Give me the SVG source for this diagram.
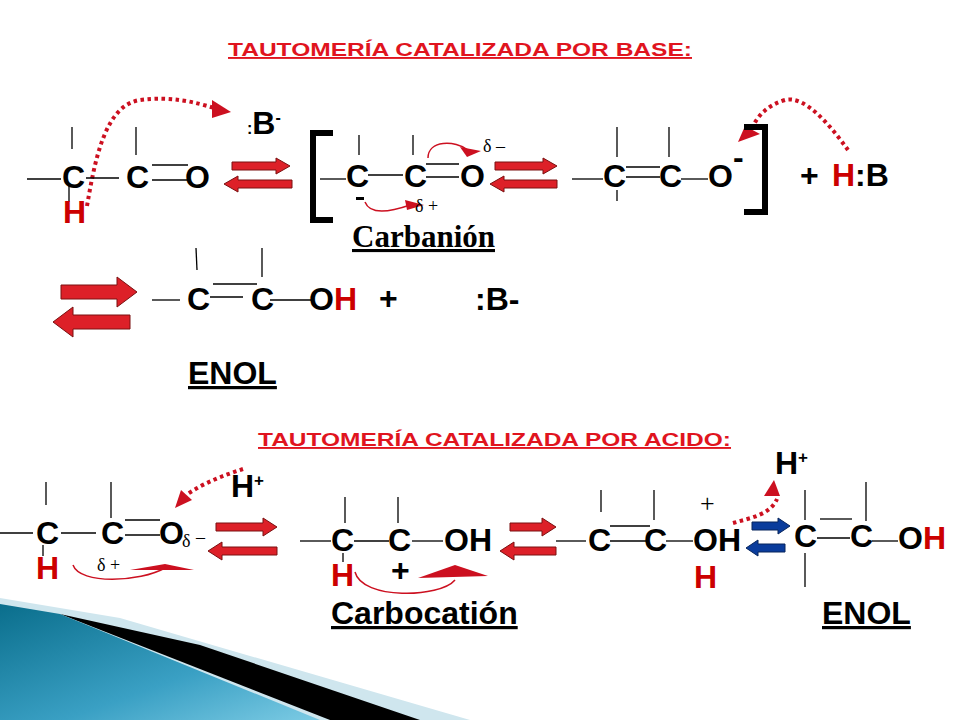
<svg xmlns="http://www.w3.org/2000/svg" width="960" height="720" viewBox="0 0 960 720">
<defs>
<style>
.t{font-family:"Liberation Sans",Arial,sans-serif;font-weight:bold;font-size:19px;fill:#e0141e;text-decoration:underline}
.a{font-family:"Liberation Sans",Arial,sans-serif;font-weight:bold;font-size:32px;fill:#000}
.a.r,.r{fill:#cc0000}
.s{font-family:"Liberation Serif","Times New Roman",serif;font-size:18px;fill:#000}
.ln{stroke:#000;stroke-width:1.3;fill:none}
.fa{fill:#dd2028;stroke:#7a1010;stroke-width:1}
.ba{fill:#0a3c9c;stroke:#06245c;stroke-width:1}
.dot{fill:none;stroke:#cc1020;stroke-width:4;stroke-dasharray:3.5 3.5}
.cur{fill:none;stroke:#cc1020;stroke-width:1.5}
.hd{fill:#cc1020}
</style>
<linearGradient id="g" x1="0" y1="0" x2="1" y2="1">
<stop offset="0" stop-color="#0a6e8c"/><stop offset="0.6" stop-color="#3aa0c4"/><stop offset="1" stop-color="#7ccbe4"/>
</linearGradient>
</defs>
<g id="decor">
<polygon points="0,598 120,618 470,720 0,720" fill="#cfe6ee"/>
<polygon points="60,614 200,645 420,720 330,720" fill="#000"/>
<polygon points="0,604 60,614 320,720 0,720" fill="url(#g)"/>
</g>
<g id="titles">
<text class="t" x="228" y="56" textLength="464" lengthAdjust="spacingAndGlyphs">TAUTOMERÍA CATALIZADA POR BASE:  </text>
<text class="t" x="258" y="446" textLength="473" lengthAdjust="spacingAndGlyphs">TAUTOMERÍA CATALIZADA POR ACIDO:  </text>
</g>
<g id="connectors">
<path class="fa" d="M232,162 L276,162 L276,158 L290,166 L276,174 L276,170 L232,170 Z"/>
<path class="fa" d="M292,180 L238,180 L238,176 L224,184 L238,192 L238,188 L292,188 Z"/>
<path class="fa" d="M495,162 L543,162 L543,158 L557,166 L543,174 L543,170 L495,170 Z"/>
<path class="fa" d="M557,180 L504,180 L504,176 L490,184 L504,192 L504,188 L557,188 Z"/>
<path class="fa" d="M61,285 L117,285 L117,277 L137,292 L117,307 L117,299 L61,299 Z"/>
<path class="fa" d="M130,315 L73,315 L73,307 L53,322 L73,337 L73,329 L130,329 Z"/>
<path class="fa" d="M216,523 L263,523 L263,518 L277,527 L263,536 L263,531 L216,531 Z"/>
<path class="fa" d="M277,547 L222,547 L222,542 L208,551 L222,560 L222,555 L277,555 Z"/>
<path class="fa" d="M510,523 L542,523 L542,518 L556,527 L542,536 L542,531 L510,531 Z"/>
<path class="fa" d="M556,547 L514,547 L514,542 L500,551 L514,560 L514,555 L556,555 Z"/>
<path class="ba" d="M752,522 L778,522 L778,518 L790,526 L778,534 L778,530 L752,530 Z"/>
<path class="ba" d="M785,544 L758,544 L758,540 L746,548 L758,556 L758,552 L785,552 Z"/>
<path class="dot" d="M87,206 C95,160 105,105 140,100 C170,96 195,102 214,108"/>
<polygon class="hd" points="212,100 231,112 212,118"/>
<path class="dot" d="M848,150 C830,125 805,95 785,100 C768,105 758,115 752,128"/>
<polygon class="hd" points="745,126 760,134 738,142"/>
<path class="cur" d="M365,202 C370,215 390,212 410,205"/>
<polygon class="hd" points="405,200 424,205 407,210"/>
<path class="cur" d="M428,158 C428,140 455,140 468,150"/>
<polygon class="hd" points="460,147 481,151 467,157"/>
<path class="dot" d="M243,469 C225,475 205,482 186,495"/>
<polygon class="hd" points="175,508 181,490 192,500"/>
<path class="cur" d="M73,565 C80,585 140,582 165,568"/>
<polygon class="hd" points="130,570 165,564 194,570"/>
<path class="cur" d="M355,572 C362,600 440,598 455,580"/>
<polygon class="hd" points="418,578 455,565 488,576"/>
<path class="dot" d="M733,523 C750,518 770,515 777,499"/>
<polygon class="hd" points="764,496 774,480 780,496"/>
</g>
<g id="mol1">
<line class="ln" x1="27" y1="179" x2="61" y2="179"/>
<line class="ln" x1="86" y1="178" x2="119" y2="178"/>
<line class="ln" x1="152" y1="165" x2="188" y2="165"/>
<line class="ln" x1="152" y1="180" x2="188" y2="180"/>
<line class="ln" x1="72" y1="127" x2="72" y2="149"/>
<line class="ln" x1="136" y1="127" x2="136" y2="155"/>
<line class="ln" x1="69" y1="186" x2="69" y2="202"/>
<text class="a" x="62" y="188">C</text>
<text class="a" x="126" y="188">C</text>
<text class="a" x="185" y="188">O</text>
<text class="a r" x="63" y="223" font-size="30">H</text>
<text class="a" x="247" y="134" font-size="28"><tspan font-size="16">:</tspan>B<tspan font-size="16" dy="-11">-</tspan></text>
</g>
<g id="carbanion">
<rect x="310" y="130" width="6" height="93"/>
<rect x="310" y="130" width="23" height="6"/>
<rect x="310" y="217" width="23" height="6"/>
<line class="ln" x1="320" y1="179" x2="346" y2="179"/>
<line class="ln" x1="368" y1="175" x2="403" y2="175"/>
<line class="ln" x1="426" y1="164" x2="459" y2="164"/>
<line class="ln" x1="426" y1="177" x2="459" y2="177"/>
<line class="ln" x1="359" y1="135" x2="359" y2="155"/>
<line class="ln" x1="413" y1="135" x2="413" y2="155"/>
<text class="a" x="346" y="187">C</text>
<text class="a" x="404" y="187">C</text>
<text class="a" x="460" y="187">O</text>
<rect x="356" y="197" width="8" height="3"/>
<text class="s" x="415" y="212">δ +</text>
<text class="s" x="483" y="152">δ –</text>
<text x="352" y="247" font-family="Liberation Serif,Times New Roman,serif" font-weight="bold" font-size="31" text-decoration="underline">Carbanión</text>
</g>
<g id="enolate">
<line class="ln" x1="572" y1="179" x2="603" y2="179"/>
<line class="ln" x1="626" y1="167" x2="660" y2="167"/>
<line class="ln" x1="626" y1="177" x2="660" y2="177"/>
<line class="ln" x1="681" y1="179" x2="708" y2="179"/>
<line class="ln" x1="617" y1="127" x2="617" y2="157"/>
<line class="ln" x1="669" y1="127" x2="669" y2="157"/>
<line class="ln" x1="617" y1="190" x2="617" y2="201"/>
<text class="a" x="603" y="187">C</text>
<text class="a" x="659" y="187">C</text>
<text class="a" x="708" y="187">O</text>
<text class="a" x="733" y="168">-</text>
<rect x="762" y="124" width="6" height="91"/>
<rect x="744" y="124" width="24" height="6"/>
<rect x="744" y="209" width="24" height="6"/>
<text class="a" x="800" y="186" font-size="30">+</text>
<text class="a" x="832" y="186" font-size="30"><tspan class="r">H</tspan>:B</text>
</g>
<g id="enol1">
<line class="ln" x1="152" y1="300" x2="180" y2="300"/>
<line class="ln" x1="210" y1="297" x2="243" y2="297"/>
<line class="ln" x1="213" y1="284" x2="257" y2="284"/>
<line class="ln" x1="270" y1="300" x2="312" y2="300"/>
<line class="ln" x1="196" y1="248" x2="197" y2="270"/>
<line class="ln" x1="262" y1="248" x2="262" y2="277"/>
<text class="a" x="187" y="310">C</text>
<text class="a" x="251" y="310">C</text>
<text class="a" x="309" y="310">O<tspan class="r">H</tspan></text>
<text class="a" x="379" y="309" font-size="30">+</text>
<text class="a" x="475" y="310" font-size="30">:B-</text>
<text class="a" x="188" y="384" font-size="30" text-decoration="underline">ENOL</text>
</g>
<g id="ketoneA">
<line class="ln" x1="0" y1="533" x2="33" y2="533"/>
<line class="ln" x1="61" y1="533" x2="96" y2="533"/>
<line class="ln" x1="125" y1="520" x2="160" y2="520"/>
<line class="ln" x1="125" y1="535" x2="160" y2="535"/>
<line class="ln" x1="46" y1="482" x2="46" y2="505"/>
<line class="ln" x1="111" y1="482" x2="111" y2="518"/>
<line class="ln" x1="43" y1="545" x2="43" y2="556"/>
<text class="a" x="36" y="544">C</text>
<text class="a" x="101" y="544">C</text>
<text class="a" x="159" y="544">O</text>
<text class="s" x="182" y="547" font-size="16">δ</text>
<text class="s" x="196" y="543">–</text>
<text class="a r" x="36" y="579" font-size="30">H</text>
<text class="s" x="97" y="571">δ +</text>
<text class="a" x="231" y="497" font-size="28">H<tspan font-size="17" dy="-11">+</tspan></text>
</g>
<g id="carbocation">
<line class="ln" x1="300" y1="541" x2="331" y2="541"/>
<line class="ln" x1="354" y1="541" x2="389" y2="541"/>
<line class="ln" x1="412" y1="541" x2="443" y2="541"/>
<line class="ln" x1="345" y1="497" x2="345" y2="523"/>
<line class="ln" x1="398" y1="497" x2="398" y2="523"/>
<line class="ln" x1="343" y1="553" x2="343" y2="562"/>
<text class="a" x="331" y="551">C</text>
<text class="a" x="388" y="551">C</text>
<text class="a" x="444" y="551" font-size="30">OH</text>
<text class="a r" x="331" y="586" font-size="30">H</text>
<text class="a" x="391" y="581">+</text>
<text class="a" x="331" y="624" font-size="30" text-decoration="underline">Carbocatión</text>
</g>
<g id="oxonium">
<line class="ln" x1="556" y1="541" x2="586" y2="541"/>
<line class="ln" x1="610" y1="526" x2="650" y2="526"/>
<line class="ln" x1="610" y1="541" x2="646" y2="541"/>
<line class="ln" x1="666" y1="541" x2="693" y2="541"/>
<line class="ln" x1="601" y1="490" x2="601" y2="512"/>
<line class="ln" x1="654" y1="490" x2="654" y2="520"/>
<text class="a" x="588" y="551">C</text>
<text class="a" x="644" y="551">C</text>
<text class="a" x="693" y="551" font-size="30">OH</text>
<text x="700" y="512" font-family="Liberation Serif,Times New Roman,serif" font-size="26">+</text>
<text class="a r" x="694" y="588" font-size="30">H</text>
<text class="a" x="775" y="474" font-size="28">H<tspan font-size="17" dy="-11">+</tspan></text>
</g>
<g id="enol2">
<line class="ln" x1="817" y1="538" x2="850" y2="538"/>
<line class="ln" x1="820" y1="519" x2="852" y2="519"/>
<line class="ln" x1="872" y1="541" x2="898" y2="541"/>
<line class="ln" x1="805" y1="490" x2="805" y2="520"/>
<line class="ln" x1="805" y1="553" x2="805" y2="587"/>
<line class="ln" x1="866" y1="482" x2="866" y2="521"/>
<text class="a" x="794" y="547">C</text>
<text class="a" x="850" y="547">C</text>
<text class="a" x="898" y="549" font-size="30">O<tspan class="r">H</tspan></text>
<text class="a" x="822" y="624" font-size="30" text-decoration="underline">ENOL</text>
</g>
</svg>
